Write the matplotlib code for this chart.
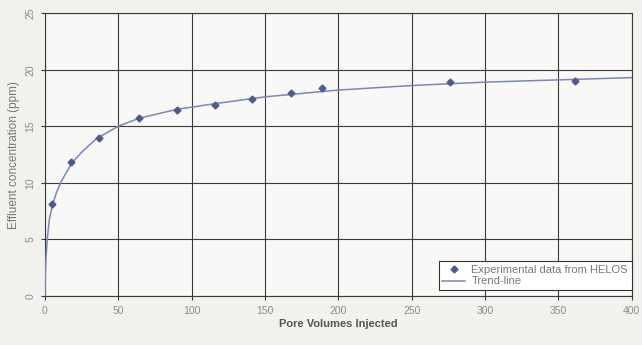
import matplotlib
matplotlib.use("Agg")
from matplotlib import pyplot as plt

# experimental points
pv_exp = [5, 18, 37, 64, 90, 116, 141, 168, 189, 276, 361]
conc_exp = [8.1, 11.8, 14.0, 15.7, 16.4, 16.9, 17.4, 17.9, 18.4, 18.9, 19.0]

# trend line
pv_trend = [0, 0.3, 0.8, 1.6, 3, 5.5, 8, 11.4, 18.6, 25, 35, 50, 64, 90,
            116, 150, 200, 250, 300, 350, 400]
conc_trend = [0, 2.0, 3.5, 5.0, 6.8, 8.2, 9.2, 10.2, 11.8, 12.7, 13.9, 15.0,
              15.7, 16.5, 17.0, 17.6, 18.2, 18.6, 18.9, 19.1, 19.3]

x_ticks = [0, 50, 100, 150, 200, 250, 300, 350, 400]
y_ticks = [0, 5, 10, 15, 20, 25]

plt.rcParams['font.family'] = ['Liberation Sans', 'DejaVu Sans']

fig = plt.figure(figsize=(6.42, 3.45), dpi=100, facecolor='#f1f1ee')
ax = fig.add_axes([0.070, 0.142, 0.914, 0.820])
ax.set_facecolor('#f8f8f6')

ax.plot(pv_trend, conc_trend, color='#7a86b8', lw=1.1, label='Trend-line', zorder=3)
ax.plot(pv_exp, conc_exp, linestyle='none', marker='D', ms=3.5,
        color='#4f5a8c', label='Experimental data from HELOS', zorder=4)

ax.set_xlim(0, 400)
ax.set_ylim(0, 25)
ax.set_xticks(x_ticks)
ax.set_yticks(y_ticks)
ax.grid(True, color='#3a3a3a', lw=0.8)
ax.set_axisbelow(True)
for s in ax.spines.values():
    s.set_color('#3a3a3a')
    s.set_linewidth(0.8)
ax.tick_params(direction='out', length=3, width=0.8, color='#3a3a3a',
               labelsize=7.5, labelcolor='#8a8a8a')
ax.tick_params(axis='x', pad=4)
ax.tick_params(axis='y', pad=4)
for t in ax.get_yticklabels():
    t.set_rotation(90)
    t.set_va('center')

ax.set_xlabel('Pore Volumes Injected', fontsize=8, fontweight='bold',
              color='#555555', labelpad=2)
ax.set_ylabel('Effluent concentration (ppm)', fontsize=8.5, color='#777777',
              labelpad=4)

h, l = ax.get_legend_handles_labels()
leg = ax.legend(h[::-1], l[::-1], loc='lower right', bbox_to_anchor=(1.0, 0.02),
                borderaxespad=0, fontsize=8, fancybox=False, framealpha=1,
                edgecolor='#333333', handlelength=2.0, labelspacing=0.15,
                borderpad=0.35, handletextpad=0.6)
leg.get_frame().set_linewidth(0.8)
for t in leg.get_texts():
    t.set_color('#777777')

fig.savefig('out.png', dpi=100, facecolor=fig.get_facecolor())
